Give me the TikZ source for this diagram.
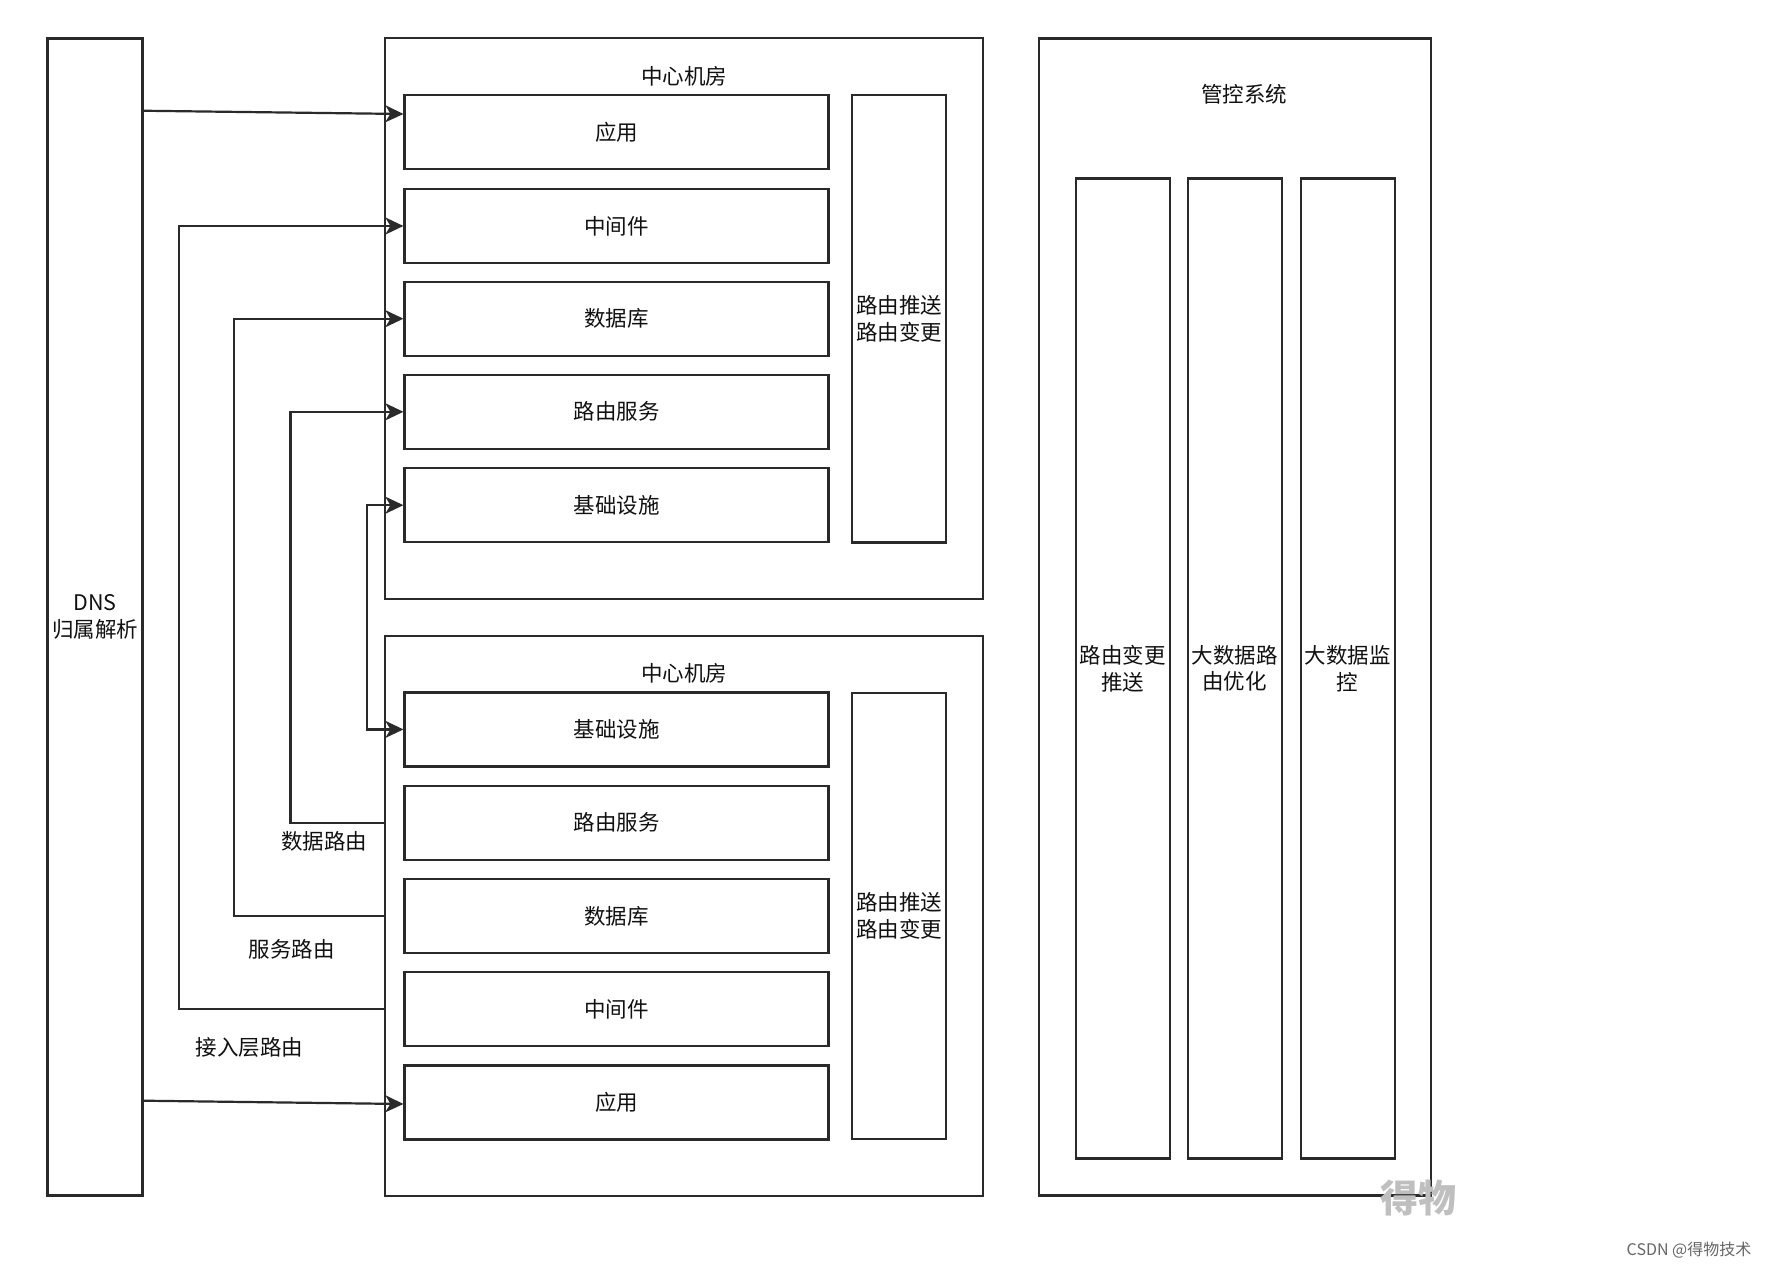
\documentclass[tikz,border=0pt]{standalone}
\usepackage{fontspec}
\setmainfont{Noto Sans CJK SC}
\usetikzlibrary{arrows.meta}
\definecolor{ln}{HTML}{2A2A2A}
\definecolor{tx}{HTML}{111111}
\tikzset{
  tip/.tip={Stealth[length=18pt,width=17pt,inset=5pt]},
  box/.style={draw=ln, line width=2.2pt, rectangle, inner sep=0pt, align=center, text=tx,
    font=\fontsize{21.5}{26.5}\selectfont},
  lbl/.style={inner sep=0pt, text=tx, font=\fontsize{21.5}{26.5}\selectfont},
  arr/.style={draw=ln, line width=2.2pt, -tip},
  arrb/.style={draw=ln, line width=2.2pt, tip-tip}
}
\begin{document}
\begin{tikzpicture}[x=1pt,y=-1pt]
\fill[white] (0,0) rectangle (1772,1268);
\useasboundingbox (0,0) rectangle (1772,1268);
% DNS
\node[box, minimum width=95pt, minimum height=1157pt] (dns) at (95,617) {DNS\\归属解析};
% rooms
\node[box, minimum width=598pt, minimum height=560.6pt] (room1) at (684,318.7) {};
\node[box, minimum width=598pt, minimum height=559.7pt] (room2) at (684,915.9) {};
\node[lbl] (t1) at (684,76) {中心机房};
\node[lbl] (t2) at (684,673.5) {中心机房};
% upper inner boxes
\node[box, minimum width=424pt, minimum height=74pt] (app1) at (616.5,132.3) {应用};
\node[box, minimum width=424pt, minimum height=74pt] (mid1) at (616.5,226) {中间件};
\node[box, minimum width=424pt, minimum height=74pt] (db1) at (616.5,318.7) {数据库};
\node[box, minimum width=424pt, minimum height=74pt] (rs1) at (616.5,411.8) {路由服务};
\node[box, minimum width=424pt, minimum height=74pt] (inf1) at (616.5,505.2) {基础设施};
\node[box, minimum width=94pt, minimum height=447.4pt] (push1) at (899,318.7) {路由推送\\路由变更};
% lower inner boxes
\node[box, minimum width=424pt, minimum height=74pt] (inf2) at (616.5,729.4) {基础设施};
\node[box, minimum width=424pt, minimum height=74pt] (rs2) at (616.5,822.7) {路由服务};
\node[box, minimum width=424pt, minimum height=74pt] (db2) at (616.5,915.9) {数据库};
\node[box, minimum width=424pt, minimum height=74pt] (mid2) at (616.5,1009.3) {中间件};
\node[box, minimum width=424pt, minimum height=74pt] (app2) at (616.5,1102.4) {应用};
\node[box, minimum width=94pt, minimum height=446pt] (push2) at (899,915.9) {路由推送\\路由变更};
% control system
\node[box, minimum width=392pt, minimum height=1157pt] (ctrl) at (1234.6,617) {};
\node[lbl] (t3) at (1244,93.8) {管控系统};
\node[box, minimum width=94pt, minimum height=980pt] (c1) at (1122.7,668.5) {路由变更\\推送};
\node[box, minimum width=94pt, minimum height=980pt] (c2) at (1234.6,668.5) {大数据路\\由优化};
\node[box, minimum width=94pt, minimum height=980pt] (c3) at (1347.6,668.5) {大数据监\\控};
% connectors
\draw[arr] (dns.east |- 0,110.75) -- (app1.west |- 0,114);
\draw[arr] (dns.east |- 0,1100.7) -- (app2.west |- 0,1104);
\draw[arr] (room2.west |- mid2.west) -- ++(-205.3,0) |- (mid1.west);
\draw[arr] (room2.west |- db2.west) -- ++(-150,0) |- (db1.west);
\draw[arr] (room2.west |- rs2.west) -- ++(-93.4,0) |- (rs1.west);
\draw[arrb] (inf1.west) -- ++(-36.2,0) |- (inf2.west);
% labels
\node[lbl] (l1) at (324,841) {数据路由};
\node[lbl] (l2) at (291.6,949) {服务路由};
\node[lbl] (l3) at (249.7,1047.6) {接入层路由};
% watermarks
\node[inner sep=0pt, text=black!25, font=\fontsize{38}{40}\selectfont\bfseries] (wm) at (1418,1198) {得物};
\node[inner sep=0pt, text=black!60, font=\fontsize{16}{18}\selectfont] (csdn) at (1689,1250) {CSDN @得物技术};
\end{tikzpicture}
\end{document}
